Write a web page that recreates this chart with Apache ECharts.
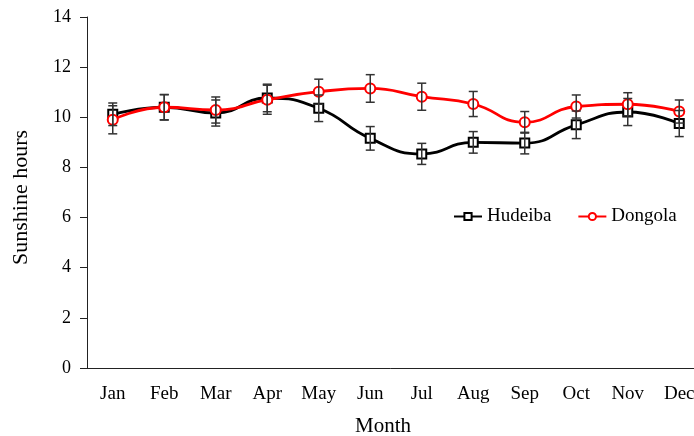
<!DOCTYPE html>
<html><head><meta charset="utf-8">
<script src="https://cdn.jsdelivr.net/npm/echarts@6/dist/echarts.min.js"></script>
<style>html,body{margin:0;padding:0;background:#fff}#c{width:694px;height:436px}</style>
</head><body><div id="c"></div>
<script>
var months = ['Jan','Feb','Mar','Apr','May','Jun','Jul','Aug','Sep','Oct','Nov','Dec'];
var yTicks = [0,2,4,6,8,10,12,14];
var hudeiba = [10.12, 10.40, 10.17, 10.77, 10.36, 9.16, 8.54, 9.00, 8.97, 9.70, 10.21, 9.75];
var hudeibaErr = [0.45, 0.50, 0.52, 0.55, 0.53, 0.47, 0.42, 0.43, 0.43, 0.55, 0.54, 0.52];
var dongola = [9.90, 10.40, 10.29, 10.70, 11.02, 11.15, 10.82, 10.53, 9.80, 10.43, 10.52, 10.23];
var dongolaErr = [0.56, 0.51, 0.52, 0.58, 0.50, 0.55, 0.54, 0.50, 0.43, 0.46, 0.46, 0.46];

var FONT = '"Liberation Serif", "Times New Roman", serif';
function errData(vals, errs){ return vals.map(function(v,i){ return [i, v-errs[i], v+errs[i]]; }); }
function errRender(params, api){
  var x = api.value(0);
  var lo = api.coord([x, api.value(1)]);
  var hi = api.coord([x, api.value(2)]);
  var hw = 4.5;
  var st = {stroke:'#333', lineWidth:1.5};
  return {type:'group', children:[
    {type:'line', shape:{x1:lo[0],y1:lo[1],x2:hi[0],y2:hi[1]}, style:st},
    {type:'line', shape:{x1:lo[0]-hw,y1:lo[1],x2:lo[0]+hw,y2:lo[1]}, style:st},
    {type:'line', shape:{x1:hi[0]-hw,y1:hi[1],x2:hi[0]+hw,y2:hi[1]}, style:st}
  ]};
}
var chart = echarts.init(document.getElementById('c'), null, {renderer:'canvas'});
chart.setOption({
  animation:false,
  backgroundColor:'#fff',
  textStyle:{fontFamily:FONT},
  grid:{left:87, top:17, width:618, height:351, outerBoundsMode:'none', containLabel:false},
  legend:{
    left:448, top:202, itemWidth:28, itemHeight:9, itemGap:26,
    textStyle:{fontFamily:FONT, fontSize:19, color:'#000'},
    data:['Hudeiba','Dongola']
  },
  xAxis:{
    type:'category', data:months, boundaryGap:true,
    axisLine:{lineStyle:{color:'#222', width:1}},
    axisTick:{alignWithLabel:true, length:5, lineStyle:{color:'#222'}},
    axisLabel:{fontFamily:FONT, fontSize:19, color:'#000', margin:17},
    name:'Month', nameLocation:'middle', nameGap:48,
    nameTextStyle:{fontFamily:FONT, fontSize:21, color:'#000', padding:[0,26,0,0]}
  },
  yAxis:{
    type:'value', min:yTicks[0], max:yTicks[yTicks.length-1], interval:2,
    splitLine:{show:false},
    axisLine:{show:true, lineStyle:{color:'#222', width:1}},
    axisTick:{show:true, length:7, lineStyle:{color:'#222'}},
    axisLabel:{fontFamily:FONT, fontSize:18, color:'#000', margin:16},
    name:'Sunshine hours', nameLocation:'middle', nameGap:55,
    nameTextStyle:{fontFamily:FONT, fontSize:22, color:'#000', padding:[0,10,0,0]}
  },
  series:[
    {name:'Hudeiba', type:'line', data:hudeiba, smooth:0.5,
     symbol:'emptyRect', symbolSize:9, z:3,
     lineStyle:{color:'#000', width:2.8},
     itemStyle:{color:'#000', borderColor:'#222', borderWidth:1.3}},
    {name:'Dongola', type:'line', data:dongola, smooth:0.5,
     symbol:'emptyCircle', symbolSize:10, z:4,
     lineStyle:{color:'#ff0000', width:2.8},
     itemStyle:{color:'#ff0000', borderColor:'#ff0000', borderWidth:1.5}},
    {type:'custom', name:'errH', renderItem:errRender, data:errData(hudeiba,hudeibaErr), z:5, encode:{x:0,y:[1,2]}},
    {type:'custom', name:'errD', renderItem:errRender, data:errData(dongola,dongolaErr), z:5, encode:{x:0,y:[1,2]}}
  ]
});
</script></body></html>
